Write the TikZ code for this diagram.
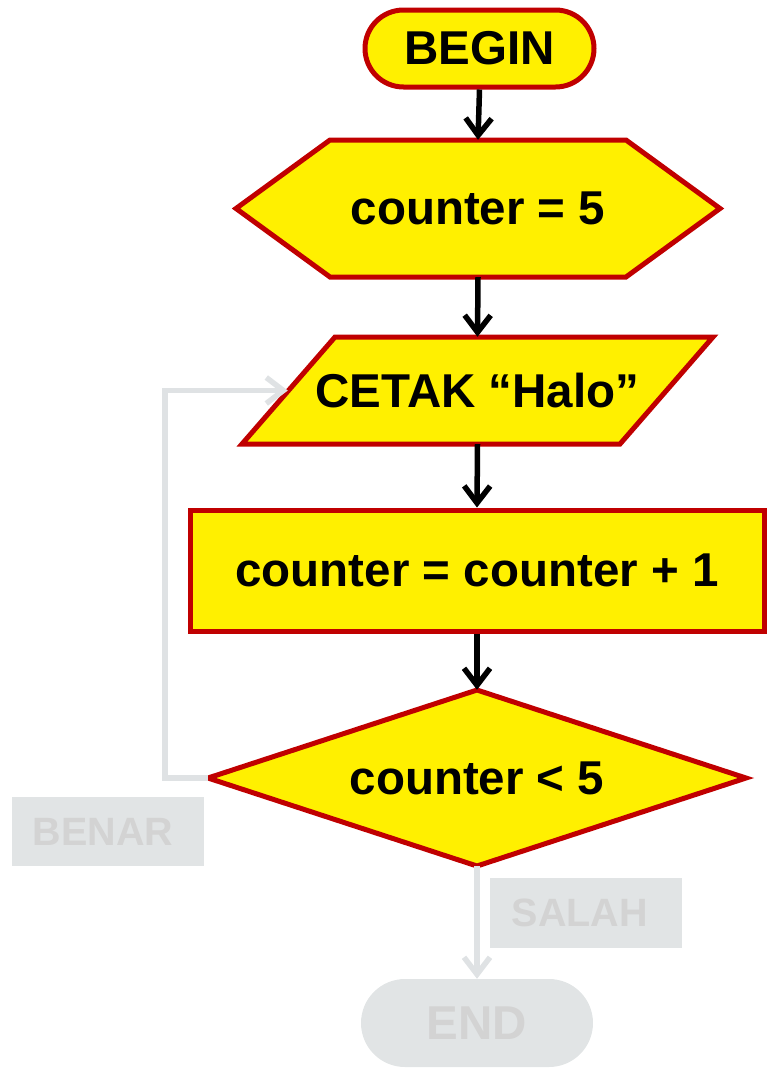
\documentclass[tikz,border=0pt]{standalone}
\usepackage{fontspec}
\setmainfont{Liberation Sans}
\usetikzlibrary{arrows.meta}
\definecolor{boxred}{HTML}{C00000}
\definecolor{boxyellow}{HTML}{FFF000}
\definecolor{offline}{HTML}{DFE2E4}
\definecolor{offfill}{HTML}{E1E4E5}
\definecolor{offtext}{HTML}{D3D3D3}
\newcommand{\bigtxt}{\fontsize{47.5}{50}\selectfont\bfseries}
\newcommand{\smalltxt}{\fontsize{39.5}{42}\selectfont\bfseries}

\begin{document}
\begin{tikzpicture}[x=1pt,y=-1pt,line join=miter,
        shapebox/.style={draw=boxred,fill=boxyellow,line width=5pt},
        lbl/.style={inner sep=0pt,font=\bigtxt,text=black},
        flow/.style={-{Straight Barb[length=17pt,width=26pt]},line width=5.5pt,black},
        offflow/.style={flow,offline},
        offbox/.style={fill=offfill,inner sep=0pt,font=\smalltxt,text=offtext}]
        \useasboundingbox (0,0) rectangle (770,1074);
        \node[lbl,shapebox,rounded corners=38.5pt,minimum width=229pt,minimum height=77pt] (begin) at (479.5,48.5) {BEGIN};
        \draw[shapebox] (236,208.5) -- (330,140) -- (626,140) -- (720,208.5) -- (626,277) -- (330,277) -- cycle;
        \node[lbl,minimum width=484pt,minimum height=137pt] (init) at (478,208.5) {counter = 5};
        \draw[shapebox] (335,337) -- (713,337) -- (620,444) -- (242,444) -- cycle;
        \node[lbl,minimum width=379pt,minimum height=107pt] (print) at (477.5,390.5) {CETAK “Halo”};
        \node[lbl,shapebox,minimum width=574pt,minimum height=121pt] (update) at (477,570.5) {counter = counter + 1};
        \draw[shapebox] (477,690) -- (746,778) -- (477,866) -- (208,778) -- cycle;
        \node[lbl,minimum width=538pt,minimum height=176pt] (test) at (477,778) {counter < 5};
        \node[offbox,minimum width=192pt,minimum height=69pt] (yes) at (108,831.5) {\hspace*{-10pt}BENAR};
        \node[offbox,minimum width=192pt,minimum height=70pt] (no) at (586,913) {\hspace*{-12pt}SALAH};
        \node[offbox,font=\bigtxt,rounded corners=44pt,minimum width=232pt,minimum height=88pt] (end) at (477,1023) {END};
        \draw[flow] (begin.south) -- (init.north);
        \draw[flow] (init.south) -- (print.north);
        \draw[flow] (print.south) -- (update.north);
        \draw[flow] (update.south) -- (test.north);
        \draw[offflow] (test.west) -- ++(-43,0) |- (print.west);
        \draw[offflow] (test.south) -- (end.north);
    \end{tikzpicture}
\end{document}
